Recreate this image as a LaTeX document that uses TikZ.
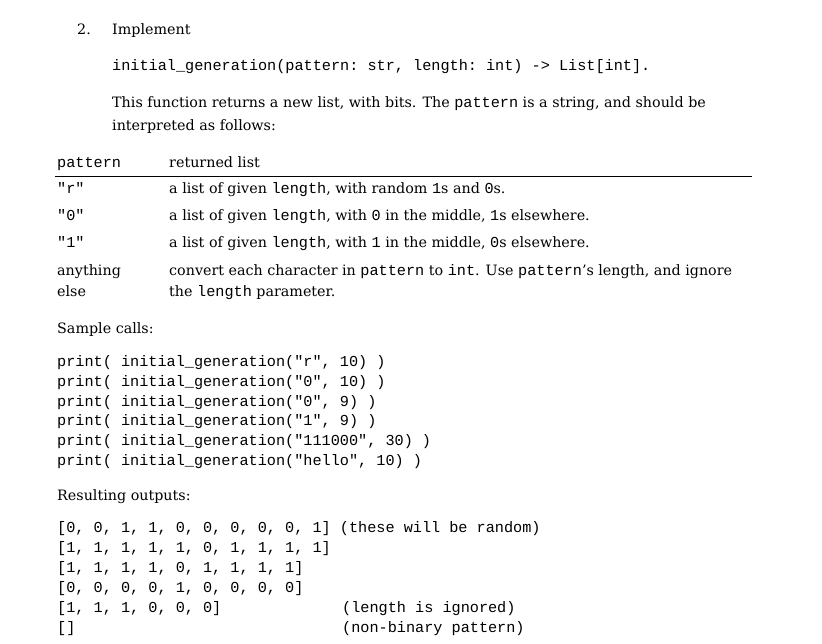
\documentclass[tikz,border=0pt]{standalone}
\usepackage{fontspec}
\setmainfont{DejaVu Serif}
\setmonofont{Liberation Mono}
\newcommand\mytt[1]{{\fontsize{15.2}{18}\selectfont\ttfamily #1}}
\begin{document}
\begin{tikzpicture}[x=1pt,y=-1pt,
  t/.style={anchor=base west,inner sep=0,font=\fontsize{14.3}{18}\selectfont},
  c/.style={anchor=base west,inner sep=0,font=\fontsize{15.2}{18}\selectfont\ttfamily}]
\useasboundingbox (0,0) rectangle (822,643);
\node[t] (n2) at (77,34) {2.};
\node[t] (impl) at (112,34) {Implement};
\node[c] (sig) at (112,70) {initial\_generation(pattern: str, length: int) -> List[int].};
\node[t] (p1) at (112,107) {This function returns a new list, with bits. The \mytt{pattern} is a string, and should be};
\node[t] (p2) at (112,130) {interpreted as follows:};
\node[c] (h1) at (57,167) {pattern};
\node[t] (h2) at (169,167) {returned list};
\draw[line width=0.8pt] (55,176) coordinate (r1) -- (752,176) coordinate (r2);
\node[c] (a1) at (57,193) {"r"};
\node[t] (b1) at (169,193) {a list of given \mytt{length}, with random \mytt{1}s and \mytt{0}s.};
\node[c] (a2) at (57,220) {"0"};
\node[t] (b2) at (169,220) {a list of given \mytt{length}, with \mytt{0} in the middle, \mytt{1}s elsewhere.};
\node[c] (a3) at (57,247) {"1"};
\node[t] (b3) at (169,247) {a list of given \mytt{length}, with \mytt{1} in the middle, \mytt{0}s elsewhere.};
\node[t] (a4) at (57,275) {anything};
\node[t] (a5) at (57,296) {else};
\node[t] (b4) at (169,275) {convert each character in \mytt{pattern} to \mytt{int}. Use \mytt{pattern}'s length, and ignore};
\node[t] (b5) at (169,296) {the \mytt{length} parameter.};
\node[t] (sc) at (57,333) {Sample calls:};
\node[c] (s1) at (57,366) {print( initial\_generation("r", 10) )};
\node[c] (s2) at (57,386) {print( initial\_generation("0", 10) )};
\node[c] (s3) at (57,406) {print( initial\_generation("0", 9) )};
\node[c] (s4) at (57,425) {print( initial\_generation("1", 9) )};
\node[c] (s5) at (57,445) {print( initial\_generation("111000", 30) )};
\node[c] (s6) at (57,465) {print( initial\_generation("hello", 10) )};
\node[t] (ro) at (57,500) {Resulting outputs:};
\node[c] (o1) at (57,532) {[0, 0, 1, 1, 0, 0, 0, 0, 0, 1] (these will be random)};
\node[c] (o2) at (57,552) {[1, 1, 1, 1, 1, 0, 1, 1, 1, 1]};
\node[c] (o3) at (57,572) {[1, 1, 1, 1, 0, 1, 1, 1, 1]};
\node[c] (o4) at (57,592) {[0, 0, 0, 0, 1, 0, 0, 0, 0]};
\node[c] (o5) at (57,612) {[1, 1, 1, 0, 0, 0]};
\node[c] (o6) at (57,632) {[]};
\node[c] (q5) at (342,612) {(length is ignored)};
\node[c] (q6) at (342,632) {(non-binary pattern)};
\end{tikzpicture}
\end{document}
